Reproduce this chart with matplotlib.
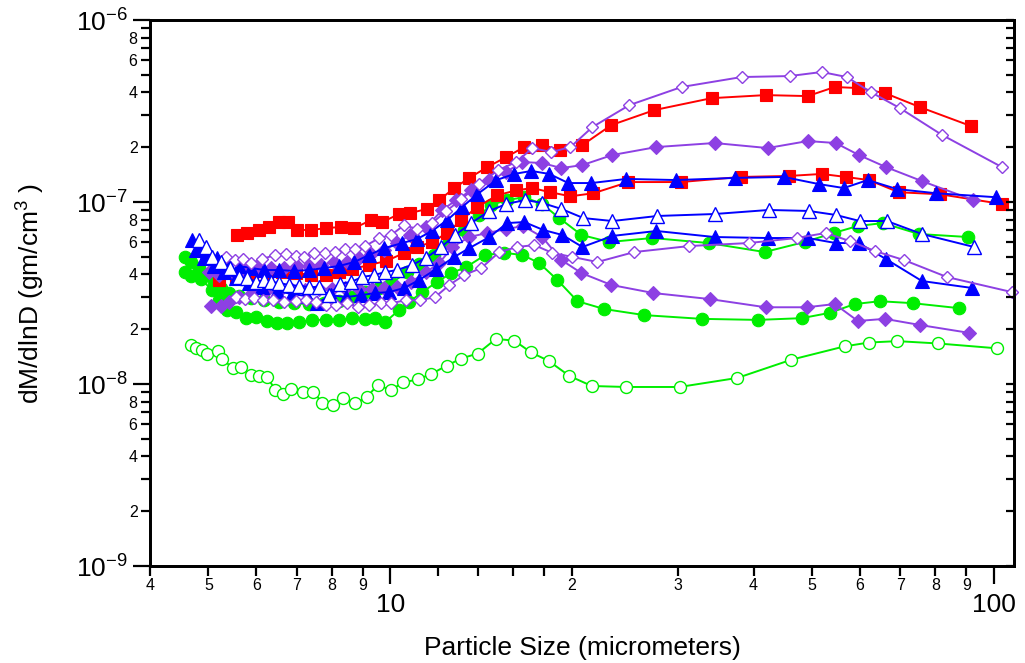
import numpy as np
import matplotlib
matplotlib.use('Agg')
import matplotlib.pyplot as plt
from matplotlib.ticker import FixedLocator, FixedFormatter, FuncFormatter

plt.rcParams['font.family'] = ['Liberation Sans', 'DejaVu Sans']
plt.rcParams['mathtext.fontset'] = 'custom'
plt.rcParams['mathtext.rm'] = 'Liberation Sans'
plt.rcParams['mathtext.it'] = 'Liberation Sans:italic'
plt.rcParams['mathtext.bf'] = 'Liberation Sans:bold'

# ---------------- data (x: micrometers, y: units of 1e-8 gm/cm^3) ----------------
UNIT = 1e-8

grn_open_x = [4.67, 4.76, 4.87, 4.98, 5.19, 5.27, 5.48, 5.67, 5.88, 6.07, 6.26, 6.45, 6.65, 6.85, 7.16,
              7.45, 7.72, 8.05, 8.36, 8.75, 9.14, 9.53, 10.03, 10.51, 11.11, 11.69, 12.40, 13.1, 13.96,
              14.97, 16.06, 17.12, 18.30, 19.81, 21.57, 24.6, 30.15, 37.6, 46.2, 56.6, 62.1, 69.2, 80.8, 101.4]
grn_open_y = [1.64, 1.57, 1.54, 1.47, 1.52, 1.38, 1.22, 1.235, 1.12, 1.10, 1.09, 0.927, 0.881, 0.939, 0.907,
              0.907, 0.789, 0.767, 0.841, 0.783, 0.845, 0.987, 0.927, 1.02, 1.06, 1.135, 1.26, 1.38, 1.47,
              1.77, 1.73, 1.49, 1.34, 1.107, 0.975, 0.963, 0.963, 1.08, 1.36, 1.61, 1.69, 1.72, 1.67, 1.57]

grn_lo_x = [4.57, 4.68, 4.86, 5.07, 5.20, 5.36, 5.56, 5.77, 6.0, 6.24, 6.50, 6.74, 7.07, 7.43, 7.84, 8.23,
            8.65, 9.09, 9.45, 9.81, 10.35, 10.75, 11.30, 11.96, 12.63, 13.36, 14.38, 15.45, 16.55, 17.66,
            18.92, 20.43, 22.64, 26.38, 32.79, 40.62, 48.06, 53.48, 58.83, 64.74, 73.44, 87.55]
grn_lo_y = [4.12, 3.92, 3.77, 3.28, 2.89, 2.55, 2.49, 2.30, 2.33, 2.22, 2.17, 2.17, 2.19, 2.25, 2.25, 2.25,
            2.30, 2.28, 2.30, 2.19, 2.55, 2.82, 3.20, 3.64, 4.07, 4.39, 5.12, 5.25, 5.12, 4.62,
            3.73, 2.85, 2.58, 2.39, 2.28, 2.25, 2.30, 2.46, 2.75, 2.85, 2.78, 2.61]

grn_hi_x = [4.57, 4.68, 4.82, 4.95, 5.11, 5.24, 5.41, 5.62, 5.88, 6.19, 6.54, 6.93, 7.34, 7.78, 8.23, 8.62,
            9.09, 9.59, 10.04, 10.67, 11.17, 11.82, 12.53, 13.26, 14.05, 14.71, 15.63, 16.68, 17.86, 19.06,
            20.74, 23.07, 27.19, 33.68, 41.72, 48.61, 54.31, 59.52, 65.49, 75.15, 90.62]
grn_hi_y = [4.99, 4.68, 4.34, 3.97, 3.64, 3.37, 3.16, 3.04, 2.96, 2.89, 2.82, 2.78, 2.75, 2.78, 2.85, 3.00,
            3.20, 3.37, 3.59, 4.12, 4.56, 5.12, 6.03, 7.02, 8.49, 9.63, 10.26, 10.62, 9.75, 8.16,
            6.59, 6.03, 6.34, 5.95, 5.31, 6.03, 6.76, 7.38, 7.66, 6.67, 6.42]

red_lo_x = [5.20, 5.56, 5.91, 6.26, 6.62, 6.98, 7.40, 7.84, 8.23, 8.65, 9.23, 9.85, 10.55, 11.08, 11.73,
            12.43, 13.11, 13.94, 15.05, 16.18, 17.20, 18.42, 19.89, 21.71, 24.8, 30.27, 38.07, 45.72,
            51.87, 56.85, 62.06, 69.61, 81.42, 103.1]
red_lo_y = [3.73, 3.87, 3.92, 4.07, 4.12, 4.07, 3.97, 3.97, 4.12, 4.28, 4.51, 4.74, 5.25, 5.66, 6.03,
            6.76, 7.96, 9.39, 10.89, 11.6, 11.93, 11.31, 10.75, 11.17, 12.87, 12.87, 13.73, 13.90,
            14.26, 13.73, 13.2, 11.31, 11.03, 9.75]

red_hi_x = [5.58, 5.79, 6.07, 6.30, 6.54, 6.77, 7.02, 7.40, 7.84, 8.29, 8.72, 9.30, 9.70, 10.35, 10.79,
            11.52, 12.06, 12.77, 13.52, 14.49, 15.57, 16.68, 17.86, 19.13, 20.82, 23.25, 27.40, 34.07,
            41.88, 49.17, 54.51, 59.52, 65.99, 75.43, 91.65]
red_hi_y = [6.59, 6.76, 7.02, 7.29, 7.76, 7.76, 7.02, 7.02, 7.19, 7.29, 7.19, 7.96, 7.76, 8.59, 8.70,
            9.16, 10.26, 11.93, 13.56, 15.56, 17.66, 20.04, 20.56, 19.3, 20.56, 26.47, 32.0, 37.2,
            38.67, 38.19, 42.83, 42.29, 39.67, 33.22, 26.14]

pur_fill_lo_x = [5.05, 5.24, 5.41, 5.62, 5.91, 6.21, 6.54, 6.88, 7.23, 7.63, 8.01, 8.42, 8.88, 9.34, 9.78,
                 10.27, 10.83, 11.47, 12.06, 12.68, 13.52, 14.49, 15.57, 16.61, 17.86, 19.21, 20.74, 23.25,
                 27.30, 33.81, 41.88, 48.99, 54.51, 59.52, 65.99, 75.43, 90.97]
pur_fill_lo_y = [2.68, 2.68, 2.82, 3.00, 3.16, 3.20, 3.24, 3.28, 3.28, 3.33, 3.33, 3.37, 3.33, 3.33, 3.37,
                 3.41, 3.64, 4.12, 4.62, 5.66, 6.42, 6.76, 7.10, 7.38, 6.42, 4.80, 4.07, 3.50,
                 3.16, 2.93, 2.64, 2.64, 2.75, 2.22, 2.28, 2.11, 1.91]

pur_fill_hi_x = [5.01, 5.20, 5.45, 5.73, 6.02, 6.35, 6.67, 7.02, 7.34, 7.69, 8.07, 8.49, 8.88, 9.30, 9.78,
                 10.27, 10.79, 11.47, 12.20, 12.87, 13.62, 14.60, 15.57, 16.55, 17.86, 19.21, 20.82, 23.34,
                 27.61, 34.46, 42.19, 49.17, 54.71, 59.75, 66.25, 76.01, 92.36]
pur_fill_hi_y = [4.12, 3.97, 4.12, 4.23, 4.34, 4.34, 4.34, 4.45, 4.45, 4.51, 4.68, 4.68, 4.93, 5.18, 5.45,
                 5.95, 6.59, 7.29, 9.04, 10.26, 11.6, 13.2, 14.63, 16.58, 16.37, 15.36, 15.96, 18.12,
                 20.04, 21.09, 19.79, 21.62, 21.09, 18.12, 15.56, 13.03, 10.26]

blue_lo_x = [4.77, 4.91, 5.11, 5.30, 5.56, 5.84, 6.14, 6.50, 6.88, 7.29, 7.57, 7.98, 8.45, 8.95, 9.45,
             9.96, 10.55, 11.17, 11.92, 12.77, 13.52, 14.60, 15.63, 16.68, 17.93, 19.28, 20.82, 23.34,
             27.61, 34.46, 42.19, 49.17, 54.71, 59.75, 66.25, 76.01, 92.0]
blue_lo_y = [5.45, 4.93, 4.45, 4.12, 3.82, 3.59, 3.41, 3.24, 3.12, 3.04, 2.78, 3.08, 3.00, 3.08, 3.16,
             3.20, 3.37, 3.73, 4.28, 4.99, 5.58, 6.42, 7.66, 7.76, 7.02, 6.59, 5.66, 6.51,
             6.93, 6.42, 6.34, 6.34, 5.95, 5.95, 4.86, 3.68, 3.37]

blue_hi_x = [4.69, 4.82, 4.97, 5.17, 5.36, 5.62, 5.88, 6.19, 6.54, 6.93, 7.34, 7.78, 8.23, 8.72, 9.23,
             9.78, 10.47, 11.08, 11.73, 12.43, 13.16, 13.94, 15.0, 16.05, 17.13, 18.35, 19.73, 21.54,
             24.61, 29.80, 37.19, 44.86, 51.27, 56.42, 61.82, 69.08, 80.23, 100.9]
blue_hi_y = [6.18, 5.66, 5.31, 4.93, 4.68, 4.45, 4.34, 4.23, 4.23, 4.18, 4.23, 4.34, 4.45, 4.68, 5.12,
             5.58, 5.95, 6.26, 6.93, 7.96, 9.39, 11.03, 13.2, 14.26, 14.81, 14.26, 12.71, 12.71,
             13.39, 13.2, 13.56, 13.73, 12.55, 11.93, 13.2, 11.78, 11.17, 10.62]

pur_open_lo_x = [5.56, 5.75, 5.95, 6.16, 6.40, 6.67, 6.98, 7.26, 7.54, 7.84, 8.14, 8.49, 8.85, 9.23, 9.66,
                 10.04, 10.63, 11.21, 11.87, 12.53, 13.26, 14.16, 15.16, 16.24, 17.33, 18.56, 20.04, 22.04,
                 25.38, 31.32, 39.25, 47.15, 52.67, 57.72, 63.50, 70.96, 83.64, 107.1]
pur_open_lo_y = [3.00, 2.93, 2.96, 2.89, 2.89, 2.82, 2.85, 2.89, 2.82, 2.71, 2.71, 2.78, 2.64, 2.71, 2.78,
                 2.78, 2.89, 2.89, 3.00, 3.50, 3.97, 4.34, 5.31, 5.66, 5.80, 5.25, 4.99, 4.68,
                 5.31, 5.73, 5.95, 6.34, 6.76, 6.10, 5.38, 4.80, 3.87, 3.20]

pur_open_hi_x = [5.34, 5.54, 5.71, 5.88, 6.14, 6.45, 6.72, 6.98, 7.21, 7.48, 7.81, 8.10, 8.42, 8.75, 9.09,
                 9.59, 10.04, 10.55, 11.08, 11.73, 12.39, 13.11, 14.05, 15.11, 16.18, 17.20, 18.49, 19.89,
                 21.63, 24.90, 30.38, 38.21, 45.90, 51.87, 57.07, 62.54, 69.88, 82.05, 103.1]
pur_open_hi_y = [4.99, 4.80, 4.86, 4.62, 4.86, 5.12, 5.18, 5.05, 4.99, 5.25, 5.25, 5.31, 5.52, 5.52, 5.73,
                 6.34, 6.59, 7.47, 7.10, 7.66, 8.93, 10.35, 12.55, 15.0, 16.58, 19.79, 18.82, 20.04,
                 25.81, 34.07, 42.83, 48.6, 49.2, 51.8, 48.6, 40.17, 32.80, 23.37, 15.56]

blue_open_x = [4.82, 4.95, 5.07, 5.24, 5.43, 5.62, 5.79, 6.0, 6.19, 6.35, 6.54, 6.80, 7.07, 7.34, 7.63,
               7.92, 8.26, 8.62, 8.98, 9.41, 9.81, 10.27, 10.87, 11.47, 12.15, 12.82, 13.62, 14.60, 15.57,
               16.74, 17.86, 19.21, 20.90, 23.34, 27.72, 34.46, 42.37, 49.36, 54.71, 59.98, 66.50, 76.01, 92.72]
blue_open_y = [6.18, 5.66, 4.99, 4.68, 4.34, 3.87, 3.82, 3.64, 3.73, 3.64, 3.59, 3.50, 3.46, 3.41, 3.41,
               3.08, 3.55, 3.64, 3.87, 3.97, 4.12, 4.23, 4.51, 4.93, 5.66, 6.59, 7.66, 8.93, 9.75,
               10.26, 9.88, 9.16, 8.16, 7.86, 8.38, 8.59, 9.04, 8.93, 8.49, 7.86, 7.86, 6.67, 5.66]

x_major_ticks = [10, 100]
x_major_labels = ['10', '100']
x_minor_ticks = [4, 5, 6, 7, 8, 9, 12, 14, 16, 18, 20, 30, 40, 50, 60, 70, 80, 90]
x_minor_labels = ['4', '5', '6', '7', '8', '9', '', '', '', '', '2', '3', '4', '5', '6', '7', '8', '9']
y_decades = [-9, -8, -7, -6]
y_minor_mult = [2, 3, 4, 5, 6, 7, 8, 9]
y_minor_labeled = [2, 4, 6, 8]

# ---------------- styles ----------------
RED = '#FF0000'
BLUE = '#0000FF'
PURPLE = '#8D40E3'
GREEN = '#00EE00'

series = [
    (grn_open_x, grn_open_y, GREEN, 'o', False, 8.6),
    (grn_lo_x, grn_lo_y, GREEN, 'o', True, 9.0),
    (grn_hi_x, grn_hi_y, GREEN, 'o', True, 9.0),
    (red_lo_x, red_lo_y, RED, 's', True, 9.2),
    (red_hi_x, red_hi_y, RED, 's', True, 9.2),
    (pur_fill_lo_x, pur_fill_lo_y, PURPLE, 'D', True, 6.8),
    (pur_fill_hi_x, pur_fill_hi_y, PURPLE, 'D', True, 6.8),
    (blue_lo_x, blue_lo_y, BLUE, '^', True, 9.5),
    (blue_hi_x, blue_hi_y, BLUE, '^', True, 9.5),
    (pur_open_lo_x, pur_open_lo_y, PURPLE, 'D', False, 6.6),
    (pur_open_hi_x, pur_open_hi_y, PURPLE, 'D', False, 6.6),
    (blue_open_x, blue_open_y, BLUE, '^', False, 9.5),
]

fig = plt.figure(figsize=(10.25, 6.63), dpi=100)
L, R, B, T = 150 / 1025, 1014 / 1025, 1 - 566 / 663, 1 - 20 / 663
ax = fig.add_axes([L, B, R - L, T - B])
ax.set_xscale('log')
ax.set_yscale('log')

for i, (xs, ys, col, mk, filled, ms) in enumerate(series):
    yv = np.asarray(ys) * UNIT
    ax.plot(xs, yv, color=col, lw=1.4, marker=mk, ms=ms,
            mfc=col if filled else 'white', mec=col,
            mew=0.8 if filled else 1.0, zorder=3 + i, clip_on=False)

ax.set_xlim(4, 108)
ax.set_ylim(1e-9, 1e-6)

# x axis ticks
ax.xaxis.set_major_locator(FixedLocator(x_major_ticks))
ax.xaxis.set_major_formatter(FixedFormatter(x_major_labels))
ax.xaxis.set_minor_locator(FixedLocator(x_minor_ticks))
ax.xaxis.set_minor_formatter(FixedFormatter(x_minor_labels))

# y axis ticks
ax.yaxis.set_major_locator(FixedLocator([10.0 ** e for e in y_decades]))
ax.yaxis.set_major_formatter(FuncFormatter(
    lambda v, p: r'$\mathregular{10^{%d}}$' % int(round(np.log10(v)))))
y_minor = [m * 10.0 ** e for e in y_decades[:-1] for m in y_minor_mult]
ax.yaxis.set_minor_locator(FixedLocator(y_minor))


def yminfmt(v, p):
    m = int(round(v / 10.0 ** np.floor(np.log10(v) + 1e-9)))
    return str(m) if m in y_minor_labeled else ''


ax.yaxis.set_minor_formatter(FuncFormatter(yminfmt))

ax.tick_params(axis='x', which='major', direction='out', length=13, width=1.6,
               pad=6.5, labelsize=19, top=False)
ax.tick_params(axis='x', which='minor', direction='out', length=7, width=1.6,
               pad=1.5, labelsize=11.5, top=False)
ax.tick_params(axis='y', which='major', direction='out', length=12.5, width=1.6,
               pad=3.5, labelsize=19, right=False)
ax.tick_params(axis='y', which='minor', direction='out', length=6.5, width=1.6,
               pad=2.5, labelsize=11.5, right=False)

for sp in ax.spines.values():
    sp.set_linewidth(2.0)

# right-hand inward ticks
ax2 = ax.twinx()
ax2.set_yscale('log')
ax2.set_ylim(1e-9, 1e-6)
ax2.yaxis.set_major_locator(FixedLocator([10.0 ** e for e in y_decades]))
ax2.yaxis.set_minor_locator(FixedLocator(y_minor))
ax2.tick_params(axis='y', which='both', direction='in', length=6, width=1.6,
                labelright=False, right=True)
for sp in ax2.spines.values():
    sp.set_linewidth(2.0)

ax.set_xlabel('Particle Size (micrometers)', fontsize=19)
ax.xaxis.set_label_coords(0.5, -0.128)
ax.xaxis.label.set_va('top')
ax.set_ylabel(r'dM/dlnD (gm/cm$^{3}$ )', fontsize=19)
ax.yaxis.set_label_coords(-0.119, 0.5)

fig.savefig('out.png', dpi=100)
